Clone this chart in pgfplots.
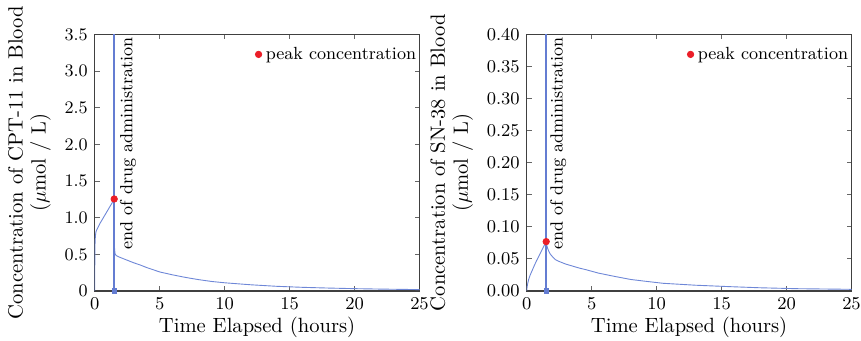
\documentclass[border=0pt]{standalone}
\usepackage{pgfplots}
\pgfplotsset{compat=1.18}
\definecolor{curveblue}{RGB}{110,135,215}
\definecolor{lineblue}{RGB}{100,125,210}
\definecolor{peakred}{RGB}{235,30,40}
\pgfplotsset{
  myaxis/.style={
    scale only axis, width=162.4pt, height=128.3pt,
    xmin=0, xmax=25, xtick={0,5,10,15,20,25},
    tick align=inside, tick pos=both,
    major tick length=2.5pt,
    every tick/.style={black!60, line width=0.5pt},
    axis line style={black!75, line width=0.6pt},
    tick label style={font=\fontsize{8.8}{10}\selectfont},
    label style={font=\fontsize{10.3}{11.5}\selectfont},
    xlabel={Time Elapsed (hours)},
    ylabel style={align=center},
    xlabel style={yshift=3pt},
    legend style={draw=none, fill=none, at={(axis description cs:1,1)}, anchor=north east,
      xshift=1.5pt, yshift=-3pt,
      font=\fontsize{8.8}{10}\selectfont, inner sep=1pt},
    legend cell align=left,
  }
}
\begin{document}
\begin{tikzpicture}
\useasboundingbox (-47.35pt,-25pt) rectangle (383.15pt,145.5pt);
\begin{axis}[myaxis, at={(0,0)}, anchor=south west,
  ymin=0, ymax=3.5, ytick={0,0.5,1,1.5,2,2.5,3,3.5},
  yticklabels={0,0.5,1.0,1.5,2.0,2.5,3.0,3.5},
  ylabel={Concentration of CPT-11 in Blood\\($\mu$mol / L)}]
\addplot[curveblue, line width=0.45pt, forget plot] coordinates {
(0,0) (0.01,0.45) (0.03,0.68) (0.06,0.76) (0.1,0.81) (0.2,0.85) (0.4,0.92)
(0.6,0.98) (0.8,1.04) (1.0,1.10) (1.2,1.16) (1.4,1.22) (1.5,1.255) (1.5,1.0)
(1.52,0.6) (1.56,0.51) (1.65,0.485) (1.8,0.47) (2,0.455) (2.5,0.42) (3,0.385)
(3.5,0.355) (4,0.32) (5,0.26) (6,0.22) (7,0.185) (8,0.155) (9,0.13) (10,0.112)
(12,0.085) (14,0.064) (16,0.05) (18,0.04) (20,0.032) (22,0.026) (25,0.019)};
\addplot[lineblue, line width=1.1pt, forget plot] coordinates {(1.5,0) (1.5,3.5)};
\addplot[only marks, mark=square*, mark size=1.1pt, color=lineblue, forget plot] coordinates {(1.5,0)};
\addplot[only marks, mark=*, mark size=1.6pt, color=peakred] coordinates {(1.5,1.255)};
\addlegendentry{peak concentration}
\node[rotate=90, anchor=east, inner sep=0pt, font=\fontsize{8.8}{10}\selectfont] at (axis cs:2.56,3.47) {end of drug administration};
\end{axis}
\begin{axis}[myaxis, at={(216pt,0)}, anchor=south west,
  ymin=0, ymax=0.4, ytick={0,0.05,0.1,0.15,0.2,0.25,0.3,0.35,0.4},
  yticklabel style={/pgf/number format/.cd, fixed, fixed zerofill, precision=2},
  ylabel={Concentration of SN-38 in Blood\\($\mu$mol / L)}]
\addplot[curveblue, line width=0.45pt, forget plot] coordinates {
(0,0) (0.03,0.006) (0.08,0.012) (0.15,0.018) (0.25,0.024) (0.4,0.031) (0.55,0.038)
(0.75,0.047) (1.0,0.057) (1.25,0.067) (1.5,0.077) (1.52,0.075) (1.55,0.071)
(1.6,0.067) (1.7,0.062) (1.8,0.058) (2.0,0.053) (2.2,0.049) (2.5,0.046) (3,0.042)
(3.5,0.039) (4,0.036) (4.6,0.033) (5.5,0.028) (6.7,0.023) (8,0.018) (9,0.0155)
(10.5,0.012) (13,0.009) (15.6,0.0068) (18,0.005) (20.8,0.0036) (25,0.0026)};
\addplot[lineblue, line width=1.1pt, forget plot] coordinates {(1.5,0) (1.5,0.4)};
\addplot[only marks, mark=square*, mark size=1.1pt, color=lineblue, forget plot] coordinates {(1.5,0)};
\addplot[only marks, mark=*, mark size=1.6pt, color=peakred] coordinates {(1.5,0.077)};
\addlegendentry{peak concentration}
\node[rotate=90, anchor=east, inner sep=0pt, font=\fontsize{8.8}{10}\selectfont] at (axis cs:2.43,0.3965) {end of drug administration};
\end{axis}
\end{tikzpicture}
\end{document}
